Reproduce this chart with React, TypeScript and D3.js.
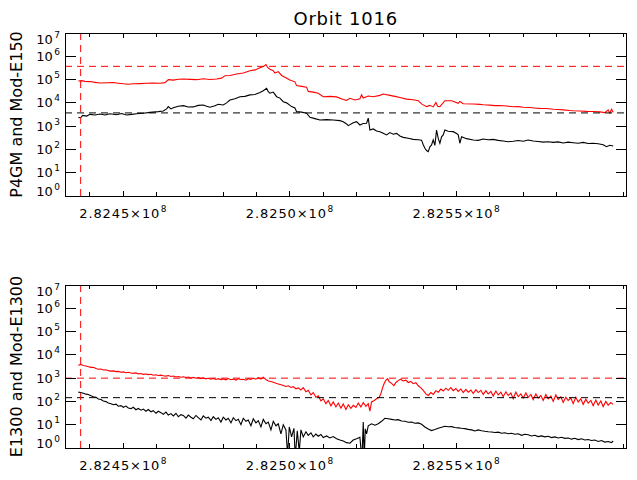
import React from 'react';
import * as d3 from 'd3';

// time axis (s) and the labelled ticks
const timeDomain = [282432500, 282601000];
const majorTimes = [282450000, 282500000, 282550000];
const majorLabels = ['2.8245', '2.8250', '2.8255'];
const decades = [0, 1, 2, 3, 4, 5, 6, 7];
const markerTime = 282437200;

// top panel: P4GM (black) and Mod-E150 (red)
const p4gm: [number, number][] = [
  [282436500, 2300], [282437300, 2400], [282437800, 2900], [282439000, 2700], [282440000, 3200],
  [282441500, 3000], [282443000, 3300], [282444500, 3000], [282446000, 3400], [282448000, 3100],
  [282449500, 3500], [282451000, 3000], [282452500, 3200], [282454000, 3400], [282456000, 3600],
  [282458000, 3900], [282460500, 4200], [282462000, 4500], [282463000, 5500], [282463500, 6900],
  [282464300, 5500], [282465000, 6200], [282466500, 7200], [282468000, 7600], [282469500, 6600],
  [282471000, 6700], [282472500, 7800], [282474000, 8100], [282475000, 7200], [282476000, 6500],
  [282477500, 7500], [282478500, 8700], [282480000, 8100], [282481000, 10000], [282482000, 13300],
  [282483500, 15000], [282485000, 18400], [282486500, 19000], [282488000, 22000], [282489500, 23000],
  [282491000, 28000], [282492000, 33000], [282493000, 42000], [282493500, 30000], [282494000, 26000],
  [282495000, 29000], [282496000, 18400], [282497000, 16000], [282498000, 11200], [282499000, 10000],
  [282500500, 6900], [282501500, 6000], [282502000, 4200], [282503500, 4000], [282505000, 3600],
  [282506000, 2400], [282507500, 2100], [282509000, 1840], [282511000, 1900], [282513000, 1840],
  [282515000, 1720], [282516000, 1550], [282517000, 1240], [282517500, 1050], [282519000, 1400],
  [282520000, 1550], [282521000, 1120], [282522000, 1300], [282523000, 1330], [282523500, 2200],
  [282524000, 680], [282525000, 760], [282526000, 620], [282527000, 580], [282528000, 500],
  [282529000, 420], [282530000, 530], [282531000, 450], [282532000, 490], [282533000, 380],
  [282534000, 330], [282535500, 300], [282537000, 270], [282538500, 260], [282539500, 250],
  [282540000, 160], [282540500, 112], [282541000, 90], [282541500, 80], [282542000, 130],
  [282542500, 155], [282543000, 260], [282543500, 150], [282544000, 680], [282544500, 300],
  [282545000, 184], [282545500, 350], [282546000, 420], [282546500, 680], [282547500, 600],
  [282549000, 580], [282550000, 480], [282550500, 420], [282551000, 184], [282551500, 350],
  [282553000, 290], [282555000, 255], [282556500, 245], [282558000, 280], [282559500, 260],
  [282561000, 270], [282562500, 245], [282564000, 230], [282565500, 215], [282567000, 225],
  [282568500, 240], [282570000, 225], [282571500, 255], [282573000, 230], [282574500, 220],
  [282576000, 205], [282577500, 215], [282579000, 200], [282580500, 210], [282582000, 190],
  [282583500, 205], [282585000, 195], [282586500, 185], [282588000, 200], [282589500, 180],
  [282591000, 184], [282592500, 175], [282594000, 160], [282595000, 131], [282596000, 150],
  [282597000, 141],
];

const modE150: [number, number][] = [
  [282436500, 87000], [282437500, 90000], [282438500, 84000], [282440000, 82000], [282441500, 76000],
  [282443000, 71000], [282445000, 73000], [282447000, 75000], [282448500, 70000], [282450000, 66000],
  [282451500, 63000], [282453000, 66000], [282455000, 67000], [282457000, 69000], [282459000, 71000],
  [282461000, 70000], [282462500, 74000], [282463500, 99000], [282465000, 95000], [282466500, 104000],
  [282468000, 106000], [282470000, 102000], [282472000, 99000], [282474000, 109000], [282476000, 100000],
  [282478000, 106000], [282479500, 115000], [282480500, 147000], [282482000, 150000], [282484000, 174000],
  [282486000, 190000], [282488000, 240000], [282489500, 260000], [282491000, 320000], [282492000, 360000],
  [282492800, 440000], [282493300, 330000], [282494000, 280000], [282495000, 240000], [282495500, 190000],
  [282496500, 220000], [282497500, 150000], [282498500, 125000], [282500000, 96000], [282501500, 80000],
  [282502000, 55000], [282503500, 51000], [282505000, 47000], [282505500, 31000], [282507000, 29000],
  [282508500, 26000], [282510000, 18400], [282512000, 19000], [282514000, 18000], [282516000, 14000],
  [282517000, 12800], [282518000, 15700], [282519500, 13300], [282521000, 15000], [282521500, 22000],
  [282522000, 16000], [282523500, 19700], [282525000, 18400], [282527000, 21000], [282528000, 24000],
  [282530000, 21000], [282531500, 19000], [282533000, 17000], [282535000, 14500], [282537000, 13500],
  [282538500, 12400], [282539500, 9000], [282541000, 6900], [282542000, 7800], [282543000, 6700],
  [282543800, 10500], [282544300, 7100], [282545000, 6900], [282546500, 12400], [282548500, 12400],
  [282549500, 11000], [282550500, 9600], [282551000, 11500], [282552000, 9200], [282555000, 8900],
  [282557000, 8600], [282558000, 8300], [282560000, 8000], [282561500, 7600], [282563000, 7700],
  [282565000, 7300], [282567000, 6800], [282568500, 6900], [282570000, 6500], [282572000, 6300],
  [282574000, 5900], [282575000, 5800], [282577000, 5700], [282579000, 5300], [282580500, 5200],
  [282582000, 5000], [282584000, 4700], [282585000, 4600], [282587000, 4500], [282589000, 4300],
  [282591000, 4250], [282593000, 4100], [282594500, 3800], [282595500, 5000], [282596000, 3600],
  [282596500, 5300], [282597000, 3900],
];

// bottom panel: E1300 (black) and Mod-E1300 (red)
const e1300: [number, number][] = [
  [282436500, 250], [282437200, 240], [282438000, 225], [282438800, 205], [282439500, 200],
  [282440300, 175], [282441000, 160], [282441800, 150], [282442500, 128], [282443300, 122],
  [282444000, 105], [282444800, 98], [282445500, 85], [282446300, 80], [282447000, 72],
  [282447800, 76], [282448500, 62], [282449300, 66], [282450000, 56], [282450800, 63],
  [282451500, 52], [282452300, 49], [282453000, 56], [282453800, 44], [282454500, 50],
  [282455300, 42], [282456000, 47], [282456800, 38], [282457500, 45], [282458300, 36],
  [282459000, 40], [282459800, 31], [282460500, 38], [282461300, 33], [282462000, 28],
  [282462800, 35], [282463500, 26], [282464300, 30], [282465000, 24], [282465800, 31],
  [282466500, 22], [282467300, 27], [282468000, 25], [282468800, 19], [282469500, 26],
  [282470300, 21], [282471000, 18], [282471800, 25], [282472500, 20], [282473300, 16],
  [282474000, 24], [282474800, 19], [282475500, 21], [282476300, 15], [282477000, 22],
  [282477800, 17], [282478500, 20], [282479300, 13], [282480000, 21], [282480800, 16],
  [282481500, 19], [282482300, 12], [282483000, 20], [282483800, 15], [282484500, 17],
  [282485300, 10], [282486000, 19], [282486800, 14], [282487500, 16], [282488300, 9],
  [282489000, 18], [282489800, 12], [282490500, 15], [282491300, 8], [282492000, 17],
  [282492800, 11], [282493500, 13], [282494300, 6], [282495000, 14], [282495800, 9],
  [282496500, 11], [282497300, 4], [282498000, 10], [282498800, 6], [282499300, 0.5],
  [282499800, 8], [282500500, 3], [282501200, 7], [282501600, 0.4], [282502200, 5.5],
  [282502800, 0.7], [282503300, 6], [282504000, 3], [282504800, 5], [282505500, 3.5],
  [282506300, 4.5], [282507000, 3], [282507800, 4], [282508500, 3.2], [282509300, 3.8],
  [282510000, 2.8], [282511000, 3.3], [282512000, 2.7], [282513000, 3.1], [282514000, 2.5],
  [282515000, 2.2], [282516000, 2.0], [282517000, 1.7], [282518000, 1.6], [282519000, 2.2],
  [282520000, 2.5], [282521000, 2.9], [282521600, 0.3], [282522000, 13], [282522300, 0.3],
  [282522600, 6.7], [282523000, 4], [282523500, 9], [282524500, 11], [282525500, 9.5],
  [282526500, 11], [282527500, 14], [282528500, 19], [282529500, 18], [282530500, 17],
  [282531500, 16], [282532500, 16.5], [282533500, 14.5], [282534500, 14], [282535500, 12.8],
  [282536500, 13], [282537500, 11.5], [282538500, 12], [282539500, 10.5], [282540500, 8],
  [282541500, 6.5], [282542500, 5.6], [282543500, 6.2], [282544500, 7], [282545500, 7.8],
  [282546500, 8.6], [282547500, 8.2], [282548500, 8.3], [282549500, 7.6], [282550500, 7.3],
  [282551500, 7.0], [282552500, 6.8], [282553500, 6.3], [282554500, 6.0], [282555500, 5.4],
  [282556500, 6.0], [282557500, 5.5], [282558500, 5.2], [282559500, 5.0], [282560500, 4.9],
  [282561500, 4.6], [282562500, 4.8], [282563500, 4.3], [282564500, 4.5], [282565500, 4.1],
  [282566500, 4.3], [282567500, 3.9], [282568500, 4.1], [282569500, 3.5], [282570500, 3.9],
  [282571500, 3.7], [282572500, 3.3], [282573500, 3.5], [282574500, 3.1], [282575500, 3.3],
  [282576500, 3.0], [282577500, 3.2], [282578500, 2.8], [282579500, 3.0], [282580500, 2.7],
  [282581500, 2.9], [282582500, 2.6], [282583500, 2.7], [282584500, 2.4], [282585500, 2.6],
  [282586500, 2.3], [282587500, 2.5], [282588500, 2.2], [282589500, 2.3], [282590500, 2.1],
  [282591500, 2.2], [282592500, 1.9], [282593500, 2.1], [282594500, 1.8], [282595500, 1.9],
  [282596500, 1.7], [282597000, 2.0],
];

const modE1300: [number, number][] = [
  [282436500, 3600], [282437200, 3900], [282438000, 3500], [282438800, 3300], [282439500, 3100],
  [282440300, 2900], [282441000, 2950], [282441800, 2600], [282442500, 2400], [282443300, 2450],
  [282444000, 2250], [282444800, 2300], [282445500, 2100], [282446300, 2000], [282447000, 2050],
  [282447800, 1900], [282448500, 1950], [282449300, 1800], [282450000, 1850], [282450800, 1700],
  [282451500, 1780], [282452300, 1650], [282453000, 1600], [282453800, 1680], [282454500, 1520],
  [282455300, 1580], [282456000, 1450], [282456800, 1500], [282457500, 1420], [282458300, 1460],
  [282459000, 1340], [282459800, 1400], [282460500, 1300], [282461300, 1350], [282462000, 1260],
  [282462800, 1220], [282463500, 1300], [282464300, 1180], [282465000, 1230], [282465800, 1120],
  [282466500, 1180], [282467300, 1100], [282468000, 1150], [282468800, 1060], [282469500, 1120],
  [282470300, 1020], [282471000, 1080], [282471800, 990], [282472500, 1050], [282473300, 960],
  [282474000, 1020], [282474800, 930], [282475500, 990], [282476300, 900], [282477000, 970],
  [282477800, 880], [282478500, 950], [282479300, 870], [282480000, 930], [282480800, 850],
  [282481500, 960], [282482300, 860], [282483000, 910], [282483800, 830], [282484500, 940],
  [282485300, 870], [282486000, 900], [282486800, 820], [282487500, 950], [282488300, 880],
  [282489000, 1000], [282489800, 900], [282490500, 1050], [282491300, 920], [282492000, 1100],
  [282492800, 880], [282493500, 760], [282494300, 720], [282495000, 660], [282495800, 600],
  [282496500, 560], [282497300, 520], [282498000, 480], [282498800, 440], [282499500, 470],
  [282500300, 400], [282501000, 430], [282501800, 350], [282502500, 380], [282503300, 310],
  [282504000, 390], [282504800, 260], [282505500, 300], [282506300, 190], [282507000, 240],
  [282507800, 150], [282508500, 175], [282509300, 105], [282510000, 130], [282510800, 80],
  [282511500, 110], [282512300, 65], [282513000, 95], [282513800, 58], [282514500, 85],
  [282515300, 52], [282516000, 78], [282516800, 45], [282517500, 72], [282518300, 50],
  [282519000, 68], [282519800, 55], [282520500, 85], [282521300, 58], [282522000, 90],
  [282522800, 62], [282523500, 80], [282524000, 38], [282524500, 95], [282525300, 110],
  [282526000, 130], [282526800, 150], [282527300, 220], [282527800, 380], [282528300, 600],
  [282528800, 820], [282529300, 950], [282529800, 700], [282530500, 600], [282531200, 480],
  [282531800, 650], [282532500, 780], [282533200, 900], [282534000, 760], [282534800, 820],
  [282535500, 650], [282536300, 720], [282537000, 580], [282537800, 640], [282538500, 470],
  [282539300, 380], [282540000, 300], [282540800, 210], [282541500, 180], [282542300, 240],
  [282543000, 200], [282543800, 290], [282544500, 250], [282545300, 340], [282546000, 280],
  [282546800, 370], [282547500, 300], [282548300, 390], [282549000, 290], [282549800, 360],
  [282550500, 270], [282551300, 340], [282552000, 240], [282552800, 330], [282553500, 250],
  [282554300, 310], [282555000, 220], [282555800, 320], [282556500, 240], [282557300, 300],
  [282558000, 200], [282558800, 290], [282559500, 210], [282560300, 270], [282561000, 170],
  [282561800, 280], [282562500, 190], [282563300, 250], [282564000, 160], [282564800, 260],
  [282565500, 180], [282566300, 230], [282567000, 130], [282567800, 250], [282568500, 160],
  [282569300, 210], [282570000, 140], [282570800, 230], [282571500, 150], [282572300, 200],
  [282573000, 120], [282573800, 210], [282574500, 140], [282575300, 180], [282576000, 110],
  [282576800, 200], [282577500, 130], [282578300, 170], [282579000, 100], [282579800, 190],
  [282580500, 120], [282581300, 160], [282582000, 90], [282582800, 150], [282583500, 110],
  [282584300, 140], [282585000, 80], [282585800, 150], [282586500, 95], [282587300, 130],
  [282588000, 75], [282588800, 125], [282589500, 85], [282590300, 110], [282591000, 65],
  [282591800, 115], [282592500, 70], [282593300, 105], [282594000, 60], [282594800, 100],
  [282595500, 70], [282596300, 90], [282597000, 75],
];

const W = 637;
const H = 480;
const left = 65;
const right = 626.5;
const font = '"DejaVu Sans", sans-serif';

const x = d3.scaleLinear().domain(timeDomain).range([left, right]);
const minorTimes = d3.range(282440000, 282601000, 10000);

type PanelProps = {
  id: string;
  top: number;
  bottom: number;
  yTitle: string;
  black: [number, number][];
  red: [number, number][];
  blackLevel: number;
  redLevel: number;
};

function Panel({ id, top, bottom, yTitle, black, red, blackLevel, redLevel }: PanelProps) {
  const y = d3.scaleLog().domain([1, 1e7]).range([bottom, top]);
  const line = d3
    .line<[number, number]>()
    .x(d => x(d[0]))
    .y(d => y(d[1]));
  const mid = (top + bottom) / 2;

  return (
    <g>
      <defs>
        <clipPath id={id}>
          <rect x={left} y={top} width={right - left} height={bottom - top} />
        </clipPath>
      </defs>

      <g clipPath={`url(#${id})`} fill="none">
        <path d={line(red) ?? ''} stroke="#ff0000" strokeWidth={1.1} />
        <path d={line(black) ?? ''} stroke="#000" strokeWidth={1.1} />
        <line x1={left} x2={right} y1={y(redLevel)} y2={y(redLevel)} stroke="#ff0000" strokeDasharray="7,5" />
        <line x1={left} x2={right} y1={y(blackLevel)} y2={y(blackLevel)} stroke="#000" strokeDasharray="7,5" />
        <line x1={x(markerTime)} x2={x(markerTime)} y1={top} y2={bottom} stroke="#ff0000" strokeDasharray="7,5" />
      </g>

      <g stroke="#000" shapeRendering="crispEdges">
        <rect x={left} y={top} width={right - left} height={bottom - top} fill="none" />
        {minorTimes.map(t => {
          const len = majorTimes.includes(t) ? 5 : 4;
          return (
            <g key={t}>
              <line x1={x(t)} x2={x(t)} y1={bottom} y2={bottom - len} />
              <line x1={x(t)} x2={x(t)} y1={top} y2={top + len} />
            </g>
          );
        })}
        {decades.map(k => (
          <g key={k}>
            <line x1={left} x2={left + 11} y1={y(10 ** k)} y2={y(10 ** k)} />
            <line x1={right - 11} x2={right} y1={y(10 ** k)} y2={y(10 ** k)} />
          </g>
        ))}
      </g>

      <g fontFamily={font} fill="#000">
        {decades.map(k => {
          const ty = y(10 ** k);
          const base = k === 7 ? ty + 11 : k === 0 ? ty : ty + 4.5;
          return (
            <text key={k} x={60} y={base} fontSize={13} textAnchor="end">
              10
              <tspan fontSize={9} dx={1.5} dy={-6}>
                {k}
              </tspan>
            </text>
          );
        })}
        {majorTimes.map((t, i) => (
          <text key={t} x={x(t)} y={bottom + 22} fontSize={13} textAnchor="middle" letterSpacing={0.9}>
            {majorLabels[i]}×10
            <tspan fontSize={9} dx={0.5} dy={-6}>
              8
            </tspan>
          </text>
        ))}
        <text
          x={21.5}
          y={mid}
          fontSize={16}
          textAnchor="middle"
          transform={`rotate(-90, 21.5, ${mid})`}
        >
          {yTitle}
        </text>
      </g>
    </g>
  );
}

export default function App() {
  return (
    <svg
      width={W}
      height={H}
      viewBox={`0 0 ${W} ${H}`}
      style={{ position: 'absolute', left: 0, top: 0, background: '#fff' }}
    >
      <rect width={W} height={H} fill="#fff" />
      <text x={(left + right) / 2} y={25} fontFamily={font} fontSize={18} textAnchor="middle" letterSpacing={0.8}>
        Orbit 1016
      </text>
      <Panel
        id="clipTop"
        top={33}
        bottom={196}
        yTitle="P4GM and Mod-E150"
        black={p4gm}
        red={modE150}
        blackLevel={3700}
        redLevel={370000}
      />
      <Panel
        id="clipBottom"
        top={285}
        bottom={448}
        yTitle="E1300 and Mod-E1300"
        black={e1300}
        red={modE1300}
        blackLevel={145}
        redLevel={1000}
      />
    </svg>
  );
}
